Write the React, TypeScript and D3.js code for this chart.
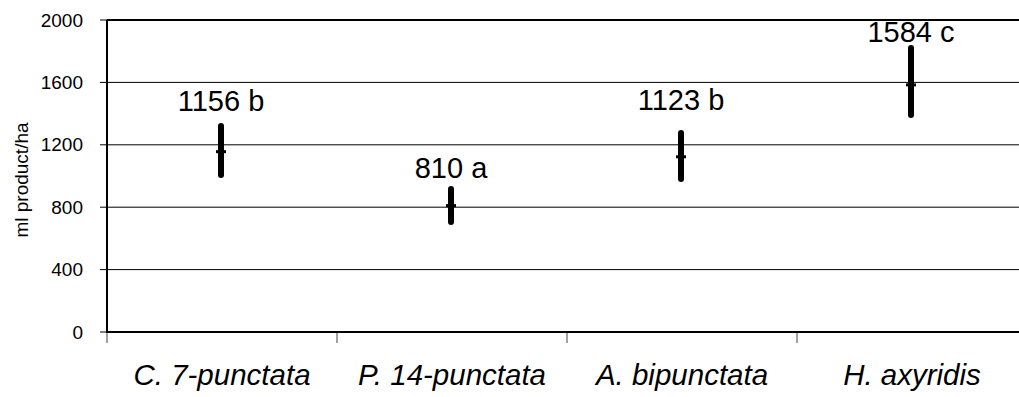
import React, { useEffect, useRef } from 'react';
import * as d3 from 'd3';

const species = ['C. 7-punctata', 'P. 14-punctata', 'A. bipunctata', 'H. axyridis'];
const means = [1156, 810, 1123, 1584];
const lows = [1006, 705, 981, 1391];
const highs = [1321, 917, 1276, 1821];
const labels = ['1156 b', '810 a', '1123 b', '1584 c'];
const labelAt = [1417, 987, 1423, 1859];
const yTicks = [0, 400, 800, 1200, 1600, 2000];

const App = () => {
  const ref = useRef<SVGSVGElement>(null);

  useEffect(() => {
    const svg = d3.select(ref.current);
    svg.selectAll('*').remove();
    const width = 1019;
    const height = 397;
    const left = 107;
    const top = 20;
    const bottom = 332;

    const x = d3.scaleBand().domain(species).range([left, left + 920]);
    const y = d3.scaleLinear().domain([0, 2000]).range([bottom, top]);
    const font = 'Liberation Sans, Arial, sans-serif';

    // gridlines
    svg
      .selectAll('.grid')
      .data(yTicks.slice(1))
      .enter()
      .append('line')
      .attr('x1', left)
      .attr('x2', width)
      .attr('y1', (d) => y(d))
      .attr('y2', (d) => y(d))
      .attr('stroke', '#000')
      .attr('stroke-width', (d) => (d === 2000 ? 2 : 1));

    // y ticks + labels
    const yAxis = svg.append('g');
    yAxis
      .selectAll('line')
      .data(yTicks)
      .enter()
      .append('line')
      .attr('x1', left - 7)
      .attr('x2', left)
      .attr('y1', (d) => y(d))
      .attr('y2', (d) => y(d))
      .attr('stroke', '#000');
    yAxis
      .selectAll('text')
      .data(yTicks)
      .enter()
      .append('text')
      .attr('x', left - 24)
      .attr('y', (d) => y(d))
      .attr('dy', '0.35em')
      .attr('text-anchor', 'end')
      .attr('font-family', font)
      .attr('font-size', 19)
      .text((d) => d);

    svg
      .append('text')
      .attr('transform', `translate(28,${(top + bottom) / 2 + 4}) rotate(-90)`)
      .attr('text-anchor', 'middle')
      .attr('font-family', font)
      .attr('font-size', 19)
      .text('ml product/ha');

    // x category ticks
    const xTicks = species.map((s) => x(s) as number);
    svg
      .selectAll('.xtick')
      .data(xTicks)
      .enter()
      .append('line')
      .attr('x1', (d) => d)
      .attr('x2', (d) => d)
      .attr('y1', bottom)
      .attr('y2', bottom + 11)
      .attr('stroke', '#444');

    // axes
    svg.append('line').attr('x1', left).attr('x2', left).attr('y1', top).attr('y2', bottom + 1).attr('stroke', '#000').attr('stroke-width', 2);
    svg.append('line').attr('x1', left).attr('x2', width).attr('y1', bottom).attr('y2', bottom).attr('stroke', '#000').attr('stroke-width', 2);

    svg
      .selectAll('.cat')
      .data(species)
      .enter()
      .append('text')
      .attr('x', (d) => (x(d) as number) + x.bandwidth() / 2)
      .attr('y', 385)
      .attr('text-anchor', 'middle')
      .attr('font-family', font)
      .attr('font-style', 'italic')
      .attr('font-size', 29.5)
      .text((d) => d);

    const cx = (i: number) => (x(species[i]) as number) + x.bandwidth() / 2 - 1;

    const bars = svg.selectAll('.bar').data(means).enter().append('g');
    bars
      .append('line')
      .attr('x1', (d, i) => cx(i))
      .attr('x2', (d, i) => cx(i))
      .attr('y1', (d, i) => y(lows[i]))
      .attr('y2', (d, i) => y(highs[i]))
      .attr('stroke', '#000')
      .attr('stroke-width', 6)
      .attr('stroke-linecap', 'round');
    bars
      .append('line')
      .attr('x1', (d, i) => cx(i) - 5)
      .attr('x2', (d, i) => cx(i) + 5)
      .attr('y1', (d) => y(d))
      .attr('y2', (d) => y(d))
      .attr('stroke', '#000')
      .attr('stroke-width', 3);
    bars
      .append('text')
      .attr('x', (d, i) => cx(i))
      .attr('y', (d, i) => y(labelAt[i]))
      .attr('text-anchor', 'middle')
      .attr('font-family', font)
      .attr('font-size', 29)
      .text((d, i) => labels[i]);
  }, []);

  return (
    <svg
      ref={ref}
      width={1019}
      height={397}
      style={{ position: 'absolute', left: 0, top: 0, background: '#fff' }}
    />
  );
};

export default App;
